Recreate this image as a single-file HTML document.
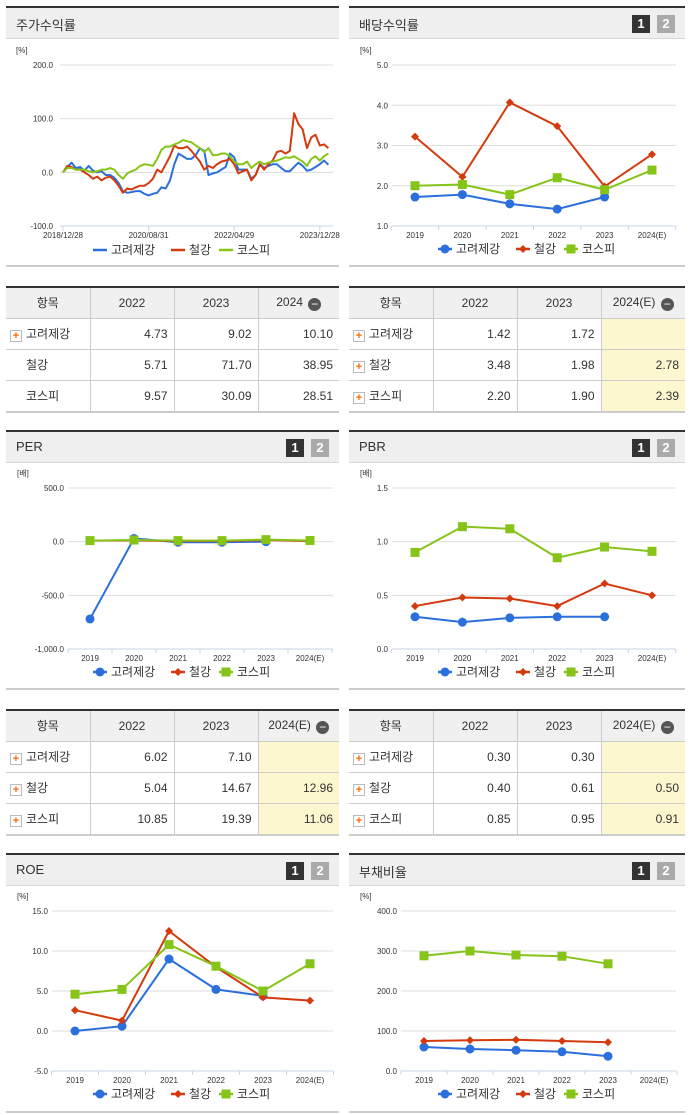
<!DOCTYPE html>
<html><head><meta charset="utf-8">
<style>
body{margin:0;width:691px;height:1115px;background:#fff;position:relative;overflow:hidden;font-family:"Liberation Sans","Noto Sans CJK KR",sans-serif;}
.abs{position:absolute;}
.ph{position:absolute;height:30px;background:#efefef;border-top:2px solid #333;border-bottom:1px solid #d6d6d6;}
.ph .t{position:absolute;left:10px;top:7px;font-size:13px;color:#333;}
.b1,.b2{position:absolute;top:7px;width:18px;height:18px;color:#fff;font-size:13px;font-weight:bold;text-align:center;line-height:18px;}
.b1{background:#333;right:35px}.b2{background:#aaa;right:10px}
.pf{position:absolute;height:2px;background:#ccc;}
table{position:absolute;border-collapse:collapse;font-size:12px;color:#333;table-layout:fixed;}
table{border-top:2px solid #333;border-bottom:2px solid #ccc;}
td,th{border:1px solid #ccc;height:30px;padding:0 6px;line-height:14px;vertical-align:middle;}
th{background:#f0f0f0;font-weight:normal;text-align:center;}
td{text-align:right;}
td.n{text-align:left;padding-left:4px}
td.hl{background:#fdf7d0}
tr td:first-child,tr th:first-child{border-left:none}
tr td:last-child,tr th:last-child{border-right:none}
.pl{display:inline-block;width:10px;height:10px;border:1px solid #bbb;background:#fff;color:#f60;font-size:11px;line-height:10px;text-align:center;font-weight:bold;margin-right:4px;vertical-align:-1px}
.mi{display:inline-block;width:13px;height:13px;border-radius:50%;background:#555;color:#fff;line-height:13px;font-size:12px;text-align:center;vertical-align:-2px;margin-left:2px}
</style></head><body>

<div class="ph" style="left:6px;top:6px;width:333px"><span class="t">주가수익률</span></div>
<div class="ph" style="left:349px;top:6px;width:336px"><span class="t">배당수익률</span><span class="b1">1</span><span class="b2">2</span></div>
<div class="pf" style="left:6px;top:265px;width:333px"></div><div class="pf" style="left:349px;top:265px;width:336px"></div>

<table style="left:6px;top:286px;width:333px">
<colgroup><col style="width:84px"><col style="width:84px"><col style="width:84px"><col></colgroup>
<tr><th>항목</th><th>2022</th><th>2023</th><th>2024 <span class="mi">−</span></th></tr>
<tr><td class="n"><span class="pl">+</span>고려제강</td><td>4.73</td><td>9.02</td><td>10.10</td></tr>
<tr><td class="n" style="padding-left:20px">철강</td><td>5.71</td><td>71.70</td><td>38.95</td></tr>
<tr><td class="n" style="padding-left:20px">코스피</td><td>9.57</td><td>30.09</td><td>28.51</td></tr>
</table>
<table style="left:349px;top:286px;width:336px">
<colgroup><col style="width:84px"><col style="width:84px"><col style="width:84px"><col></colgroup>
<tr><th>항목</th><th>2022</th><th>2023</th><th>2024(E) <span class="mi">−</span></th></tr>
<tr><td class="n"><span class="pl">+</span>고려제강</td><td>1.42</td><td>1.72</td><td class="hl"></td></tr>
<tr><td class="n"><span class="pl">+</span>철강</td><td>3.48</td><td>1.98</td><td class="hl">2.78</td></tr>
<tr><td class="n"><span class="pl">+</span>코스피</td><td>2.20</td><td>1.90</td><td class="hl">2.39</td></tr>
</table>

<div class="ph" style="left:6px;top:430px;width:333px"><span class="t">PER</span><span class="b1">1</span><span class="b2">2</span></div>
<div class="ph" style="left:349px;top:430px;width:336px"><span class="t">PBR</span><span class="b1">1</span><span class="b2">2</span></div>
<div class="pf" style="left:6px;top:688px;width:333px"></div><div class="pf" style="left:349px;top:688px;width:336px"></div>

<table style="left:6px;top:709px;width:333px">
<colgroup><col style="width:84px"><col style="width:84px"><col style="width:84px"><col></colgroup>
<tr><th>항목</th><th>2022</th><th>2023</th><th>2024(E) <span class="mi">−</span></th></tr>
<tr><td class="n"><span class="pl">+</span>고려제강</td><td>6.02</td><td>7.10</td><td class="hl"></td></tr>
<tr><td class="n"><span class="pl">+</span>철강</td><td>5.04</td><td>14.67</td><td class="hl">12.96</td></tr>
<tr><td class="n"><span class="pl">+</span>코스피</td><td>10.85</td><td>19.39</td><td class="hl">11.06</td></tr>
</table>
<table style="left:349px;top:709px;width:336px">
<colgroup><col style="width:84px"><col style="width:84px"><col style="width:84px"><col></colgroup>
<tr><th>항목</th><th>2022</th><th>2023</th><th>2024(E) <span class="mi">−</span></th></tr>
<tr><td class="n"><span class="pl">+</span>고려제강</td><td>0.30</td><td>0.30</td><td class="hl"></td></tr>
<tr><td class="n"><span class="pl">+</span>철강</td><td>0.40</td><td>0.61</td><td class="hl">0.50</td></tr>
<tr><td class="n"><span class="pl">+</span>코스피</td><td>0.85</td><td>0.95</td><td class="hl">0.91</td></tr>
</table>

<div class="ph" style="left:6px;top:853px;width:333px"><span class="t">ROE</span><span class="b1">1</span><span class="b2">2</span></div>
<div class="ph" style="left:349px;top:853px;width:336px"><span class="t">부채비율</span><span class="b1">1</span><span class="b2">2</span></div>
<div class="pf" style="left:6px;top:1111px;width:333px"></div><div class="pf" style="left:349px;top:1111px;width:336px"></div>

<svg id="sv" class="abs" style="left:0;top:0" width="691" height="1115"></svg>

<script>
const names=["고려제강","철강","코스피"];
const colors=["#2b6fdc","#d43a0e","#86c41a"];
const years=["2019","2020","2021","2022","2023","2024(E)"];
const stockKorea=[0,10,18,8,10,3,12,3,0,2,-5,-5,-10,-20,-35,-38,-37,-35,-35,-40,-43,-40,-38,-28,-30,-15,15,35,30,25,25,32,45,40,-5,-2,0,5,10,35,28,5,5,5,-12,-5,15,8,12,15,15,8,2,2,10,18,12,3,5,10,15,22,14];
const stockSteel=[0,12,10,5,5,0,-5,-12,-8,-15,-10,-8,-15,-25,-38,-30,-32,-28,-25,-25,-20,-12,5,0,15,30,50,45,45,48,40,30,20,5,12,8,15,20,22,25,15,-2,2,5,-15,-5,15,5,15,22,38,40,35,40,110,90,80,45,65,70,50,52,45];
const stockKospi=[0,8,8,5,5,5,2,0,2,5,5,8,5,-5,-12,-2,2,5,12,15,14,12,25,42,48,48,52,55,60,58,56,50,45,38,45,32,32,35,35,30,20,15,15,20,8,15,20,15,18,20,22,25,28,27,30,25,20,12,25,30,22,30,35];
const stockTicks=["200.0","100.0","0.0","-100.0"];
const stockDates=["2018/12/28","2020/08/31","2022/04/29","2023/12/28"];
const divKorea=[1.72,1.78,1.55,1.42,1.72,null];
const divSteel=[3.22,2.22,4.07,3.48,1.98,2.78];
const divKospi=[2.0,2.03,1.78,2.20,1.90,2.39];
const perKorea=[-720,30,-5,-5,0,null];
const perSteel=[10,12,5,5,15,5];
const perKospi=[10,15,10,10,19,11];
const pbrKorea=[0.30,0.25,0.29,0.30,0.30,null];
const pbrSteel=[0.40,0.48,0.47,0.40,0.61,0.50];
const pbrKospi=[0.90,1.14,1.12,0.85,0.95,0.91];
const roeKorea=[0,0.6,9,5.2,4.4,null];
const roeSteel=[2.6,1.3,12.5,8,4.2,3.8];
const roeKospi=[4.6,5.2,10.8,8.1,5,8.4];
const debtKorea=[60,55,52,48,37,null];
const debtSteel=[75,77,78,75,72,null];
const debtKospi=[288,300,290,287,268,null];

const NS="http://www.w3.org/2000/svg",sv=document.getElementById('sv');
function mk(t,a,p){const e=document.createElementNS(NS,t);for(const k in a)e.setAttribute(k,a[k]);(p||sv).appendChild(e);return e;}
function txt(x,y,s,sz,anc,col){const e=mk('text',{x:x,y:y,'font-size':sz,'text-anchor':anc||'start',fill:col||'#333','font-family':'Liberation Sans, Noto Sans CJK KR, sans-serif'});e.textContent=s;return e;}
function marker(k,x,y,g){
 if(k==0){const m=mk('circle',{cx:x,cy:y,r:4.5,fill:colors[0]},g);}
 else if(k==1){const m=mk('path',{d:`M${x} ${y-4}L${x+4} ${y}L${x} ${y+4}L${x-4} ${y}Z`,fill:colors[1]},g);}
 else {const m=mk('rect',{x:x-4.5,y:y-4.5,width:9,height:9,fill:colors[2]},g);}
}
function legend(cx,y,withMarker){
 const g=mk('g',{});
 const w=[78,48,55];let x=cx-90;
 for(let k=0;k<3;k++){
  mk('line',{x1:x,y1:y-4,x2:x+14,y2:y-4,stroke:colors[k],'stroke-width':2.5},g);
  if(withMarker)marker(k,x+7,y-4,g);
  const t=txt(x+18,y,names[k],12,'start','#333');g.appendChild(t);
  x+=w[k];
 }
}
function catChart(o){
 const g=mk('g',{});
 const Y=v=>o.yb+(v-o.min)/(o.max-o.min)*(o.yt-o.yb);
 const X=i=>o.cx0+o.cw*i;
 txt(o.ux,o.yt-12,o.unit,8,'start','#333');
 for(const v of o.ticks){mk('line',{x1:o.gx0,x2:o.gx1,y1:Y(v),y2:Y(v),stroke:'#ddd'},g);txt(o.gx0-4,Y(v)+3,o.fmt(v),8,'end','#333');}
 mk('line',{x1:o.gx0,x2:o.gx1,y1:o.yb,y2:o.yb,stroke:'#c8d4e4'},g);
 for(let i=0;i<=6;i++){const xx=o.cx0-o.cw/2+o.cw*i;mk('line',{x1:xx,x2:xx,y1:o.yb,y2:o.yb+4,stroke:'#c8d4e4'},g);}
 years.forEach((yv,i)=>txt(X(i),o.yb+12,yv,8,'middle','#333'));
 o.series.forEach((s,k)=>{
  let d='';s.forEach((v,i)=>{if(v!==null)d+=(d?'L':'M')+X(i)+' '+Y(v);});
  const p=mk('path',{d:d,fill:'none',stroke:colors[k],'stroke-width':2},g);
  
  
  s.forEach((v,i)=>{if(v!==null)marker(k,X(i),Y(v),g);});
 });
 legend(o.lx,o.yb+27,true);
}
(function(){
 const g=mk('g',{});
 const yt=65,yb=226,min=-100,max=200,gx0=60,gx1=333;
 const Y=v=>yb+(v-min)/(max-min)*(yt-yb);
 const X=i=>63+4.28*i;
 txt(16,53,'[%]',8);
 stockTicks.forEach(s=>{const v=parseFloat(s);mk('line',{x1:gx0,x2:gx1,y1:Y(v),y2:Y(v),stroke:'#ddd'},g);txt(gx0-7,Y(v)+3,s,8,'end');});
 mk('line',{x1:gx0,x2:gx1,y1:yb,y2:yb,stroke:'#c8d4e4'},g);
 stockDates.forEach((s,i)=>{const xx=X(i*20);mk('line',{x1:xx,x2:xx,y1:yb,y2:yb+5,stroke:'#c8d4e4'},g);txt(xx,yb+12,s,8,'middle');});
 [stockKorea,stockSteel,stockKospi].forEach((s,k)=>{
  const d=s.map((v,i)=>(i?'L':'M')+X(i)+' '+Y(v)).join('');
  const p=mk('path',{d:d,fill:'none',stroke:colors[k],'stroke-width':2,'stroke-linejoin':'round'},g);
  
  
 });
 legend(183,254,false);
})();
const f1=v=>v.toFixed(1);
const fc=v=>v<=-1000?'-1,000.0':v.toFixed(1);
catChart({name:'dividend-chart',yt:65,yb:226,min:1,max:5,ticks:[5,4,3,2,1],fmt:f1,gx0:392,gx1:676,cx0:415,cw:47.4,ux:360,unit:'[%]',series:[divKorea,divSteel,divKospi],lx:528});
catChart({name:'per-chart',yt:488,yb:649,min:-1000,max:500,ticks:[500,0,-500,-1000],fmt:fc,gx0:68,gx1:333,cx0:90,cw:44,ux:17,unit:'[배]',series:[perKorea,perSteel,perKospi],lx:183});
catChart({name:'pbr-chart',yt:488,yb:649,min:0,max:1.5,ticks:[1.5,1,0.5,0],fmt:f1,gx0:392,gx1:676,cx0:415,cw:47.4,ux:360,unit:'[배]',series:[pbrKorea,pbrSteel,pbrKospi],lx:528});
catChart({name:'roe-chart',yt:911,yb:1071,min:-5,max:15,ticks:[15,10,5,0,-5],fmt:f1,gx0:52,gx1:333,cx0:75,cw:47,ux:17,unit:'[%]',series:[roeKorea,roeSteel,roeKospi],lx:183});
catChart({name:'debt-ratio-chart',yt:911,yb:1071,min:0,max:400,ticks:[400,300,200,100,0],fmt:f1,gx0:401,gx1:676,cx0:424,cw:46,ux:360,unit:'[%]',series:[debtKorea,debtSteel,debtKospi],lx:528});
</script>
</body></html>
